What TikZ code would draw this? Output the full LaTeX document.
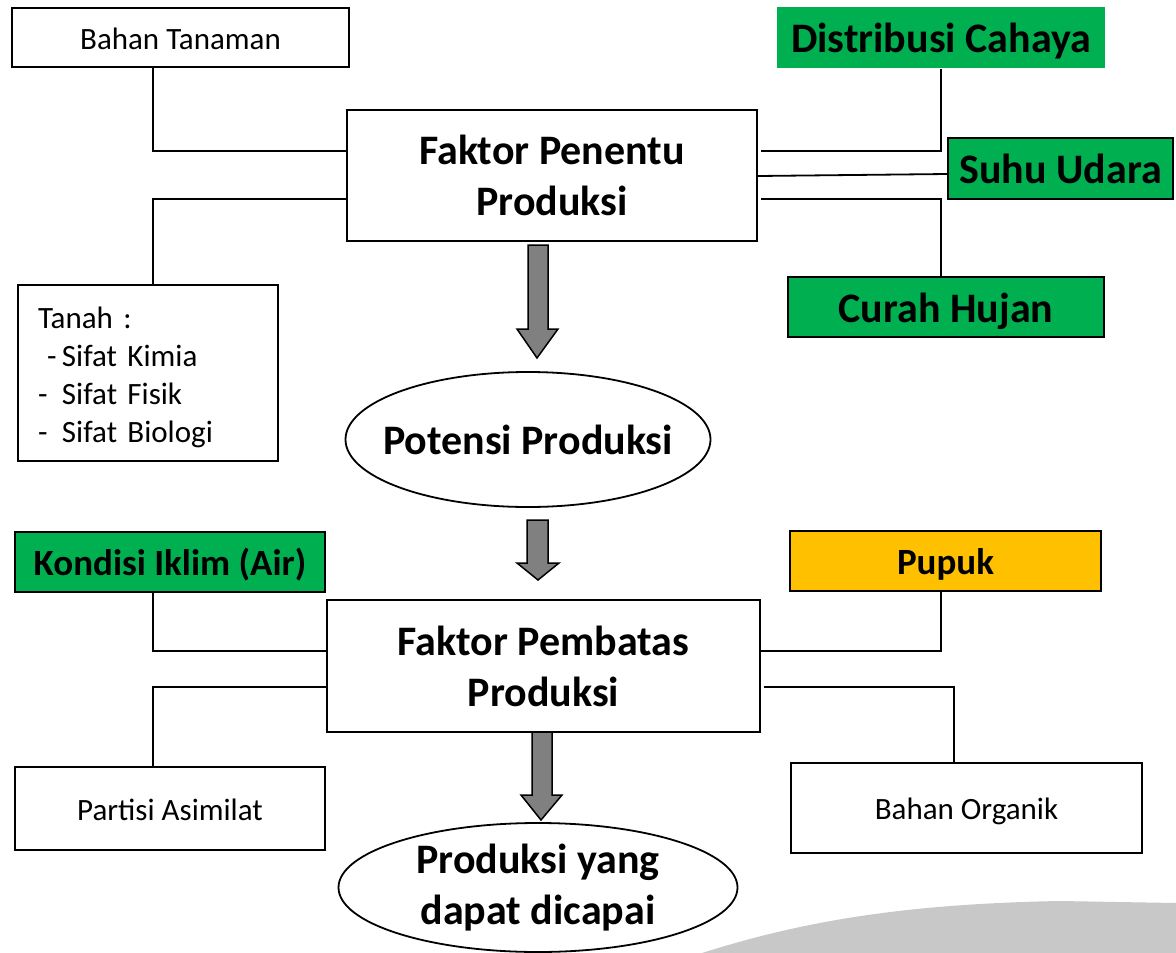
\documentclass[tikz,border=0pt]{standalone}
\usepackage{fontspec}
\setmainfont{Carlito}
\usetikzlibrary{shapes.geometric}
\definecolor{grn}{HTML}{00B050}
\definecolor{gold}{HTML}{FFC000}
\definecolor{arrgray}{HTML}{808080}
\definecolor{swooshgray}{HTML}{C8C8C8}
\begin{document}
\begin{tikzpicture}[x=1pt,y=-1pt,
  box/.style={draw, line width=1.8pt, inner sep=0pt, align=center},
  normtxt/.style={font=\fontsize{31}{38}\selectfont},
  normone/.style={normtxt, text height=23pt, text depth=0pt},
  bigtxt/.style={font=\fontsize{42}{51}\selectfont\bfseries},
  bigone/.style={bigtxt, text height=30pt, text depth=0pt},
  midtxt/.style={font=\fontsize{37}{45}\selectfont\bfseries, text height=26pt, text depth=0pt},
  conn/.style={line width=1.8pt},
  oval/.style={draw, line width=1.8pt, fill=white},
  blockarrow/.style={fill=arrgray, draw=black, line width=1.5pt, line join=miter}]
\useasboundingbox (0,0) rectangle (1176,953);
\fill[white] (0,0) rectangle (1176,953);
% background swoosh
\fill[swooshgray] (702,953) .. controls (800,922) and (900,904) .. (1060,901) -- (1176,903) -- (1176,953) -- cycle;

% columns for connectors
\coordinate (xl) at (153,0);
\coordinate (xr) at (941,0);
\coordinate (xr2) at (954,0);

% upper part
\node[box, normone, minimum width=337pt, minimum height=59pt] (bahan) at (180.5,37.5) {Bahan Tanaman};
\node[box, bigtxt, minimum width=410pt, minimum height=131pt] (fpp) at (552,175.5) {Faktor Penentu\\Produksi};
\node[box, draw=none, fill=grn, bigone, minimum width=328pt, minimum height=61pt] (dist) at (941,37.5) {Distribusi Cahaya};
\node[box, fill=grn, bigone, minimum width=225pt, minimum height=61pt] (suhu) at (1060.5,168.5) {Suhu Udara};
\node[box, fill=grn, bigone, minimum width=316pt, minimum height=60pt] (curah) at (946,307) {Curah Hujan};
\node[box, normtxt, align=left, text width=220pt, inner xsep=20pt, minimum height=176pt] (tanah) at (148,373)
  {\rule{0pt}{30pt}Tanah :\\\makebox[24pt][l]{\hspace{9pt}-}Sifat Kimia\\\makebox[24pt][l]{-}Sifat Fisik\\\makebox[24pt][l]{-}Sifat Biologi};
\draw[oval] (528,439.5) ellipse [x radius=182.5, y radius=67.5];
\node[bigone, inner sep=0pt] (pot) at (528,439.5) {Potensi Produksi};

% lower part
\node[box, fill=grn, midtxt, minimum width=310pt, minimum height=60pt] (kond) at (170,562) {Kondisi Iklim (Air)};
\node[box, bigtxt, minimum width=433pt, minimum height=132pt] (fpb) at (543.5,666) {Faktor Pembatas\\Produksi};
\node[box, fill=gold, midtxt, minimum width=311pt, minimum height=60pt] (pupuk) at (945.5,561) {Pupuk};
\node[box, normone, minimum width=310pt, minimum height=83pt] (partisi) at (170,808.5) {Partisi Asimilat};
\node[box, normone, minimum width=351pt, minimum height=90pt] (organik) at (966.5,808) {Bahan Organik};
\draw[oval] (538,887.5) ellipse [x radius=199.5, y radius=64.5];
\node[bigtxt, inner sep=0pt, align=center] (prod) at (538,887.5) {Produksi yang\\dapat dicapai};

% connectors upper
\draw[conn] (bahan.south -| xl) |- ([yshift=24.5pt]fpp.west);
\draw[conn] ([yshift=-23.5pt]fpp.west) -| (tanah.north -| xl);
\draw[conn] ([xshift=3pt,yshift=24.5pt]fpp.east) -| (dist.south);
\draw[conn] ([yshift=-0.5pt]fpp.east) -- ([yshift=-5.5pt]suhu.west);
\draw[conn] ([xshift=3pt,yshift=-23.5pt]fpp.east) -| (curah.north -| xr);

% connectors lower
\draw[conn] (kond.south -| xl) |- ([yshift=15pt]fpb.west);
\draw[conn] ([yshift=-21pt]fpb.west) -| (partisi.north -| xl);
\draw[conn] ([yshift=15pt]fpb.east) -| (pupuk.south -| xr);
\draw[conn] ([xshift=3pt,yshift=-21pt]fpb.east) -| (organik.north -| xr2);

% block arrows
\filldraw[blockarrow] (528,245) -- (548,245) -- (548,329) -- (558,329) -- (537,358) -- (517,329) -- (528,329) -- cycle;
\filldraw[blockarrow] (527,520) -- (548,520) -- (548,563) -- (559,563) -- (538,580) -- (517,563) -- (527,563) -- cycle;
\filldraw[blockarrow] (532,732) -- (552,732) -- (552,795) -- (562,795) -- (541,820) -- (521,795) -- (532,795) -- cycle;
\end{tikzpicture}
\end{document}
